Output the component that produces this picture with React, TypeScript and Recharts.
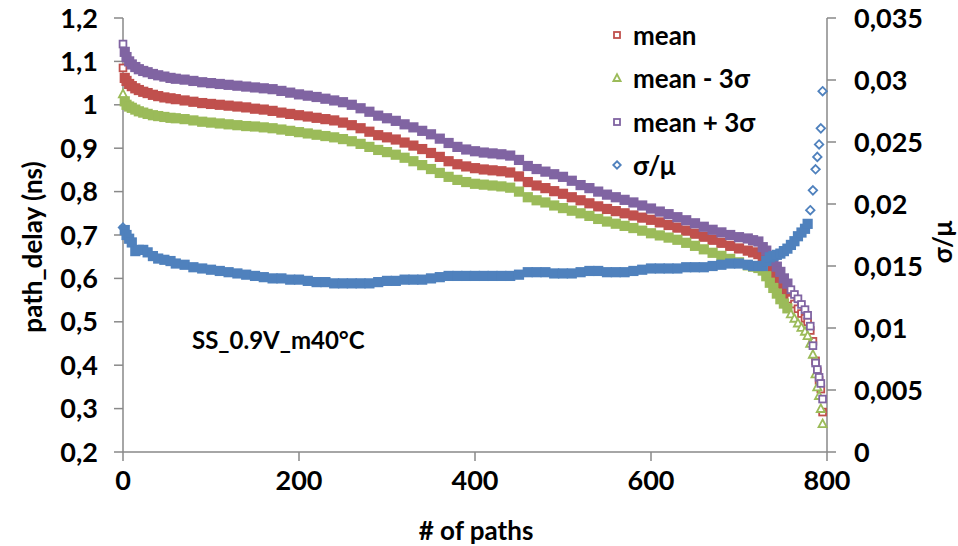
import { ScatterChart, Scatter, XAxis, YAxis } from "recharts";

const RED = "#C0504D";
const GREEN = "#9BBB59";
const PURPLE = "#8064A2";
const BLUE = "#4F81BD";
const AXIS = "#898989";
const FONT = "Lato, 'Open Sans', sans-serif";

// path index (sorted by delay)
const PATHS = [
  0, 2, 4, 7, 10, 14, 18, 23, 28, 34, 40, 47, 54, 60, 70, 80, 90, 100, 110, 120,
  130, 140, 150, 160, 170, 180, 190, 200, 210, 220, 230, 240, 250, 260, 270, 280,
  290, 300, 310, 320, 330, 340, 350, 360, 370, 380, 390, 400, 410, 420, 430, 440,
  450, 460, 470, 480, 490, 500, 510, 520, 530, 540, 550, 560, 570, 580, 590, 600,
  610, 620, 630, 640, 650, 660, 670, 680, 690, 700, 710, 716, 722, 727, 731, 735,
  739, 743, 747, 751, 755, 759, 763, 767, 771, 775, 778, 781, 784, 787, 789, 791,
  793, 795,
];

// path_delay (ns)
const MEAN = [
  1.085, 1.062, 1.055, 1.048, 1.043, 1.038, 1.034, 1.03, 1.027, 1.023, 1.02, 1.017,
  1.015, 1.013, 1.01, 1.007, 1.004, 1.002, 1.0, 0.998, 0.996, 0.994, 0.991, 0.989,
  0.986, 0.982, 0.979, 0.976, 0.973, 0.97, 0.967, 0.964, 0.959, 0.953, 0.946, 0.938,
  0.93, 0.925, 0.92, 0.913, 0.906, 0.898, 0.889, 0.88, 0.87, 0.863, 0.858, 0.854,
  0.851, 0.849, 0.847, 0.844, 0.835, 0.822, 0.814, 0.808, 0.801, 0.795, 0.787, 0.78,
  0.773, 0.766, 0.76, 0.755, 0.75, 0.745, 0.74, 0.735, 0.729, 0.723, 0.717, 0.71,
  0.703, 0.696, 0.689, 0.682, 0.675, 0.669, 0.664, 0.66, 0.656, 0.648, 0.636, 0.624,
  0.612, 0.598, 0.588, 0.575, 0.563, 0.552, 0.541, 0.53, 0.519, 0.508, 0.5, 0.48,
  0.455, 0.41, 0.385, 0.365, 0.345, 0.292,
];

const MEAN_MINUS = [
  1.025, 1.008, 1.0, 0.996, 0.993, 0.989, 0.985, 0.982, 0.979, 0.976, 0.974, 0.972,
  0.97, 0.969, 0.967, 0.964, 0.961, 0.959, 0.957, 0.955, 0.953, 0.951, 0.95, 0.948,
  0.946, 0.943, 0.94, 0.937, 0.934, 0.931, 0.928, 0.925, 0.921, 0.916, 0.91, 0.903,
  0.896, 0.891, 0.885, 0.878, 0.87, 0.861, 0.852, 0.843, 0.834, 0.827, 0.822, 0.818,
  0.816, 0.814, 0.812, 0.809, 0.8, 0.787, 0.78, 0.775, 0.768, 0.762, 0.756, 0.75,
  0.744, 0.737, 0.731, 0.726, 0.721, 0.716, 0.71, 0.704, 0.699, 0.694, 0.689, 0.682,
  0.675, 0.667, 0.659, 0.652, 0.645, 0.637, 0.63, 0.627, 0.624, 0.618, 0.605, 0.59,
  0.578, 0.565, 0.552, 0.542, 0.531, 0.518, 0.508, 0.497, 0.487, 0.478, 0.468, 0.45,
  0.425, 0.38, 0.35, 0.33, 0.3, 0.265,
];

const MEAN_PLUS = [
  1.14, 1.122, 1.11, 1.1, 1.093, 1.087, 1.082, 1.078, 1.075, 1.071, 1.068, 1.065,
  1.062, 1.06, 1.058, 1.055, 1.052, 1.05, 1.048, 1.046, 1.044, 1.042, 1.04, 1.038,
  1.036, 1.032, 1.028, 1.024, 1.021, 1.018, 1.014, 1.01, 1.006, 1.0, 0.992, 0.984,
  0.975, 0.969, 0.963, 0.955, 0.948, 0.94, 0.932, 0.922, 0.912, 0.903, 0.897, 0.893,
  0.89, 0.888, 0.886, 0.883, 0.873, 0.859, 0.852, 0.846, 0.84, 0.834, 0.825, 0.815,
  0.808, 0.8, 0.793, 0.787, 0.781, 0.775, 0.768, 0.761, 0.754, 0.748, 0.741, 0.734,
  0.727, 0.719, 0.712, 0.706, 0.7, 0.695, 0.692, 0.688, 0.685, 0.672, 0.664, 0.652,
  0.64, 0.627, 0.615, 0.6, 0.588, 0.574, 0.563, 0.553, 0.54, 0.528, 0.515, 0.49,
  0.445, 0.405, 0.39, 0.372, 0.358, 0.322,
];

// σ/μ (right axis)
const SIGMA_MU = [
  0.0181, 0.0179, 0.0175, 0.0172, 0.0169, 0.0162, 0.0163, 0.0163, 0.0161, 0.0158,
  0.0156, 0.0155, 0.0154, 0.0152, 0.0151, 0.0149, 0.0148, 0.0147, 0.0146, 0.0145,
  0.0144, 0.0143, 0.0142, 0.0141, 0.014, 0.014, 0.0139, 0.0139, 0.0138, 0.0137,
  0.0137, 0.0136, 0.0136, 0.0136, 0.0136, 0.0136, 0.0137, 0.0138, 0.0138, 0.0139,
  0.0139, 0.0139, 0.014, 0.0141, 0.0142, 0.0142, 0.0142, 0.0142, 0.0142, 0.0142,
  0.0142, 0.0142, 0.0143, 0.0145, 0.0145, 0.0145, 0.0144, 0.0144, 0.0144, 0.0145,
  0.0146, 0.0146, 0.0145, 0.0145, 0.0145, 0.0146, 0.0147, 0.0148, 0.0148, 0.0148,
  0.0148, 0.0149, 0.0149, 0.0149, 0.015, 0.0151, 0.0152, 0.0152, 0.0151, 0.015,
  0.015, 0.015, 0.0154, 0.0157, 0.0158, 0.0159, 0.016, 0.0162, 0.0164, 0.0167,
  0.017, 0.0174, 0.0177, 0.018, 0.0184, 0.0195, 0.0211, 0.0228, 0.0238, 0.0248,
  0.0261, 0.0291,
];

const X_TICKS = [0, 200, 400, 600, 800];
const DELAY_TICKS = [0.2, 0.3, 0.4, 0.5, 0.6, 0.7, 0.8, 0.9, 1.0, 1.1, 1.2];
const RATIO_TICKS = [0, 0.005, 0.01, 0.015, 0.02, 0.025, 0.03, 0.035];

const LEGEND = [
  { name: "mean", color: RED, kind: "square" },
  { name: "mean - 3σ", color: GREEN, kind: "triangle" },
  { name: "mean + 3σ", color: PURPLE, kind: "square" },
  { name: "σ/μ", color: BLUE, kind: "diamond" },
];

const toPoints = (ys: number[]) => PATHS.map((x, i) => ({ x, y: ys[i] }));
const comma = (v: number) => String(+v.toFixed(3)).replace(".", ",");

function markerEl(kind: string, cx: number, cy: number, r: number, color: string, hollow: boolean) {
  const fill = hollow ? "#fff" : color;
  const sw = hollow ? 1.8 : 0;
  if (kind === "triangle") {
    const pts = `${cx},${cy - r * 1.25} ${cx + r * 1.2},${cy + r} ${cx - r * 1.2},${cy + r}`;
    return <polygon points={pts} fill={fill} stroke={color} strokeWidth={sw} />;
  }
  if (kind === "diamond") {
    const d = r * 1.25;
    const pts = `${cx},${cy - d} ${cx + d},${cy} ${cx},${cy + d} ${cx - d},${cy}`;
    return <polygon points={pts} fill={fill} stroke={color} strokeWidth={sw} />;
  }
  return <rect x={cx - r} y={cy - r} width={r * 2} height={r * 2} fill={fill} stroke={color} strokeWidth={sw} />;
}

// dense run of overlapping markers reads as a solid band, the sparse ends are hollow
function makeShape(kind: string, color: string, sparseFrom: number) {
  return (props: any) => {
    const { cx, cy, payload } = props;
    if (cx == null || cy == null) return <g />;
    const loose = payload.x === 0 || payload.x >= sparseFrom;
    if (loose) return markerEl(kind, cx, cy, 3.4, color, true);
    return markerEl("square", cx, cy, 5.1, color, false);
  };
}

const tickStyle = { fill: "#000", fontSize: 27, fontWeight: 700, fontFamily: FONT };

export default function App() {
  return (
    <div
      style={{
        position: "absolute",
        left: 0,
        top: 0,
        width: 958,
        height: 546,
        background: "#fff",
        fontFamily: FONT,
        fontWeight: 700,
        color: "#000",
      }}
    >
      <ScatterChart width={958} height={546} margin={{ top: 18, right: 0, bottom: 0, left: 0 }}>
        <XAxis
          type="number"
          dataKey="x"
          domain={[0, 800]}
          ticks={X_TICKS}
          height={94}
          tickSize={9}
          tickMargin={10}
          stroke={AXIS}
          strokeWidth={1.5}
          tick={tickStyle}
        />
        <YAxis
          yAxisId="left"
          type="number"
          dataKey="y"
          domain={[0.2, 1.2]}
          ticks={DELAY_TICKS}
          width={123}
          tickSize={9}
          tickMargin={16}
          stroke={AXIS}
          strokeWidth={1.5}
          tick={tickStyle}
          tickFormatter={comma}
        />
        <YAxis
          yAxisId="right"
          orientation="right"
          type="number"
          dataKey="y"
          domain={[0, 0.035]}
          ticks={RATIO_TICKS}
          width={131}
          tickSize={9}
          tickMargin={18}
          stroke={AXIS}
          strokeWidth={1.5}
          tick={tickStyle}
          tickFormatter={comma}
        />
        <Scatter yAxisId="left" name="mean" data={toPoints(MEAN)} shape={makeShape("square", RED, 759)} isAnimationActive={false} />
        <Scatter yAxisId="left" name="mean - 3σ" data={toPoints(MEAN_MINUS)} shape={makeShape("triangle", GREEN, 759)} isAnimationActive={false} />
        <Scatter yAxisId="left" name="mean + 3σ" data={toPoints(MEAN_PLUS)} shape={makeShape("square", PURPLE, 759)} isAnimationActive={false} />
        <Scatter yAxisId="right" name="σ/μ" data={toPoints(SIGMA_MU)} shape={makeShape("diamond", BLUE, 781)} isAnimationActive={false} />
      </ScatterChart>

      {/* legend */}
      {LEGEND.map((l, i) => (
        <div
          key={l.name}
          style={{
            position: "absolute",
            left: 610,
            top: 35 + i * 43.3 - 17,
            height: 34,
            lineHeight: "34px",
            fontSize: 26,
            whiteSpace: "nowrap",
            display: "flex",
            alignItems: "center",
          }}
        >
          <svg width={14} height={14} style={{ marginRight: 9 }}>
            {markerEl(l.kind, 7, 7, 3, l.color, true)}
          </svg>
          {l.name}
        </div>
      ))}

      <div style={{ position: "absolute", left: 192, top: 324, fontSize: 24, lineHeight: "32px", whiteSpace: "nowrap" }}>
        SS_0.9V_m40°C
      </div>

      {/* axis titles */}
      <svg
        width={958}
        height={546}
        style={{ position: "absolute", left: 0, top: 0, pointerEvents: "none" }}
        fontFamily={FONT}
        fontWeight={700}
        fontSize={26}
      >
        <text x={476} y={530} textAnchor="middle" dominantBaseline="central">
          # of paths
        </text>
        <text x={32} y={247} textAnchor="middle" dominantBaseline="central" transform="rotate(-90 32 247)">
          path_delay (ns)
        </text>
        <text x={942} y={242} textAnchor="middle" dominantBaseline="central" transform="rotate(-90 942 242)">
          σ/μ
        </text>
      </svg>
    </div>
  );
}
